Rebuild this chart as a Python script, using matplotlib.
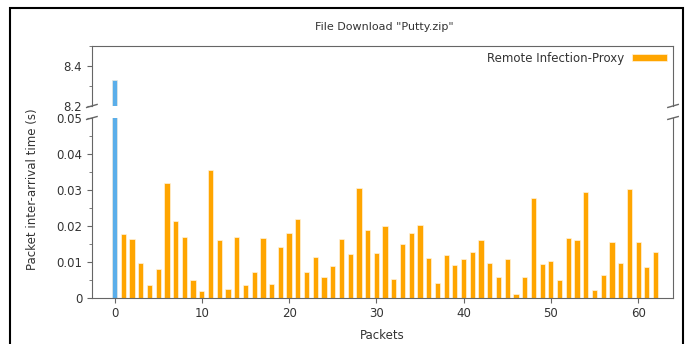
import matplotlib
matplotlib.use('Agg')
import matplotlib.pyplot as plt
from matplotlib.ticker import MultipleLocator, FormatStrFormatter
from matplotlib.patches import Rectangle

# first packet (blue) and the following packets (orange)
first_packet = [0]
first_value = [8.33]
packets = list(range(1, 63))
values = [0.0178, 0.0163, 0.0095, 0.0036, 0.0079, 0.0320, 0.0212, 0.0170, 0.0050, 0.0018,
          0.0355, 0.0159, 0.0024, 0.0168, 0.0036, 0.0071, 0.0166, 0.0038, 0.0142, 0.0181,
          0.0220, 0.0070, 0.0113, 0.0057, 0.0088, 0.0164, 0.0121, 0.0306, 0.0187, 0.0124,
          0.0200, 0.0051, 0.0149, 0.0179, 0.0202, 0.0110, 0.0040, 0.0118, 0.0090, 0.0107,
          0.0126, 0.0159, 0.0095, 0.0057, 0.0108, 0.0011, 0.0057, 0.0276, 0.0093, 0.0103,
          0.0050, 0.0166, 0.0159, 0.0294, 0.0021, 0.0064, 0.0155, 0.0095, 0.0301, 0.0155,
          0.0084, 0.0128]
legend_label = 'Remote Infection-Proxy'

blue = '#5aaeea'
orange = '#ffa500'
grey = '#666666'
txt = '#333333'

fig = plt.figure(figsize=(6.96, 3.44), dpi=100)
ax_top = fig.add_axes([0.132, 0.692, 0.835, 0.175])
ax_bot = fig.add_axes([0.132, 0.135, 0.835, 0.522])

for ax in (ax_top, ax_bot):
    ax.bar(first_packet, first_value, width=0.6, color=blue,
           edgecolor='#e8e8e0', linewidth=0.5)
    ax.bar(packets, values, width=0.6, color=orange, edgecolor='#fff3dc',
           linewidth=0.5, label=legend_label)
    ax.set_xlim(-2.6, 64)
    for s in ax.spines.values():
        s.set_color(grey)
    ax.tick_params(colors=grey, labelcolor=txt, labelsize=8.5, direction='out')
    ax.tick_params(which='minor', colors=grey, direction='out')

ax_top.set_ylim(8.2, 8.5)
ax_top.yaxis.set_major_locator(MultipleLocator(0.2))
ax_top.yaxis.set_minor_locator(MultipleLocator(0.1))
ax_top.yaxis.set_major_formatter(FormatStrFormatter('%g'))
ax_top.spines['bottom'].set_visible(False)
ax_top.tick_params(axis='x', bottom=False, labelbottom=False)

ax_bot.set_ylim(0, 0.05)
ax_bot.yaxis.set_major_locator(MultipleLocator(0.01))
ax_bot.yaxis.set_minor_locator(MultipleLocator(0.005))
ax_bot.yaxis.set_major_formatter(FormatStrFormatter('%g'))
ax_bot.spines['top'].set_visible(False)
ax_bot.xaxis.set_major_locator(MultipleLocator(10))
ax_bot.set_xlabel('Packets', fontsize=8.5, color=txt, labelpad=6)

# break marks
kw = dict(color=grey, lw=1, clip_on=False)
dx = 0.009
ax_top.plot([-dx, dx], [-0.025, 0.025], transform=ax_top.transAxes, **kw)
ax_top.plot([1 - dx, 1 + dx], [-0.025, 0.025], transform=ax_top.transAxes, **kw)
ax_bot.plot([-dx, dx], [1 - 0.008, 1 + 0.008], transform=ax_bot.transAxes, **kw)
ax_bot.plot([1 - dx, 1 + dx], [1 - 0.008, 1 + 0.008], transform=ax_bot.transAxes, **kw)

leg = ax_top.legend(loc='upper right', frameon=False, fontsize=8.5, handlelength=3.0,
                    handleheight=0.6, borderaxespad=0.2, borderpad=0.3,
                    handletextpad=0.6, markerfirst=False)
for t in leg.get_texts():
    t.set_color(txt)

fig.text(0.552, 0.922, 'File Download "Putty.zip"', ha='center', va='center',
         fontsize=8, color=txt)
fig.text(0.047, 0.45, 'Packet inter-arrival time (s)', rotation=90, ha='center',
         va='center', fontsize=8.5, color=txt)

fig.patches.append(Rectangle((10 / 696, -0.05), 673 / 696, 1 - 7.5 / 344 + 0.05,
                             transform=fig.transFigure, fill=False, edgecolor='black',
                             linewidth=1.5))

fig.savefig('out.png', dpi=100)
